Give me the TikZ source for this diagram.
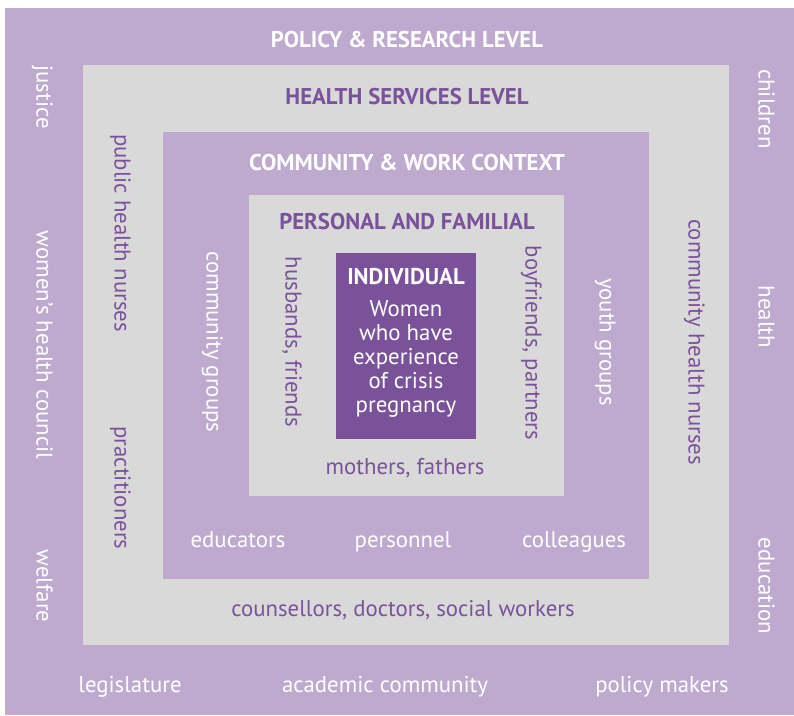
\documentclass[tikz,border=0pt]{standalone}
\usepackage{fontspec}
\setmainfont{PT Sans}
\usetikzlibrary{positioning}
\definecolor{colLilac}{RGB}{189,170,206}
\definecolor{colGrey}{RGB}{217,217,217}
\definecolor{colPlum}{RGB}{122,82,154}

\begin{document}
\begin{tikzpicture}[x=1pt, y=-1pt,
    lvltitle/.style={font=\fontsize{22.8}{26}\selectfont\bfseries},
    item/.style={font=\fontsize{22.8}{26}\selectfont, text height=0.72em, text depth=0.22em},
    onlilac/.style={text=white},
    ongrey/.style={text=colPlum},
    down/.style={rotate=-90}]
    \useasboundingbox (0,0) rectangle (794,715);

    % the nested levels
    \fill[colLilac] (5,8) rectangle (794,715);
    \fill[colGrey] (83,65) rectangle (729,645);
    \fill[colLilac] (163,132) rectangle (649,579);
    \fill[colGrey] (249,195) rectangle (564,496);
    \fill[colPlum] (336,253) rectangle (476,439);

    % Policy & research level
    \node[lvltitle, onlilac] (policy) at (407,40) {POLICY \& RESEARCH LEVEL};
    \node[item, onlilac, down] (justice) at (39,97) {justice};
    \node[item, onlilac, down] (womens) at (39,345) {women's health council};
    \node[item, onlilac, down] (welfare) at (39,586) {welfare};
    \node[item, onlilac, down] (children) at (761,109) {children};
    \node[item, onlilac, down] (health) at (761,317) {health};
    \node[item, onlilac, down] (education) at (761,586) {education};
    \node[item, onlilac] (legis) at (130,690) {legislature};
    \node[item, onlilac] (academic) at (385,690) {academic community};
    \node[item, onlilac] (policymk) at (662,690) {policy makers};

    % Health services level
    \node[lvltitle, ongrey] (services) at (407,97) {HEALTH SERVICES LEVEL};
    \node[item, ongrey, down] (publicnurses) at (117,233) {public health nurses};
    \node[item, ongrey, down] (practitioners) at (117,488) {practitioners};
    \node[item, ongrey, down] (commnurses) at (691,342) {community health nurses};
    \node[item, ongrey] (counsellors) at (403,614) {counsellors, doctors, social workers};

    % Community & work context
    \node[lvltitle, onlilac] (community) at (407,163) {COMMUNITY \& WORK CONTEXT};
    \node[item, onlilac, down] (commgroups) at (209,342) {community groups};
    \node[item, onlilac, down] (youth) at (602,342) {youth groups};
    \node[item, onlilac] (educators) at (238,545) {educators};
    \node[item, onlilac] (personnel) at (403,545) {personnel};
    \node[item, onlilac] (colleagues) at (574,545) {colleagues};

    % Personal and familial
    \node[lvltitle, ongrey] (personal) at (407,222) {PERSONAL AND FAMILIAL};
    \node[item, ongrey, down] (husbands) at (288,342) {husbands, friends};
    \node[item, ongrey, down] (boyfriends) at (528,343) {boyfriends, partners};
    \node[item, ongrey] (mothers) at (405,472) {mothers, fathers};

    % Individual
    \node[lvltitle, onlilac] (individual) at (406,277) {INDIVIDUAL};
    \node[font=\fontsize{22.8}{24}\selectfont, text=white, align=center] (women) at (406,359)
        {Women\\who have\\experience\\of crisis\\pregnancy};
\end{tikzpicture}
\end{document}
